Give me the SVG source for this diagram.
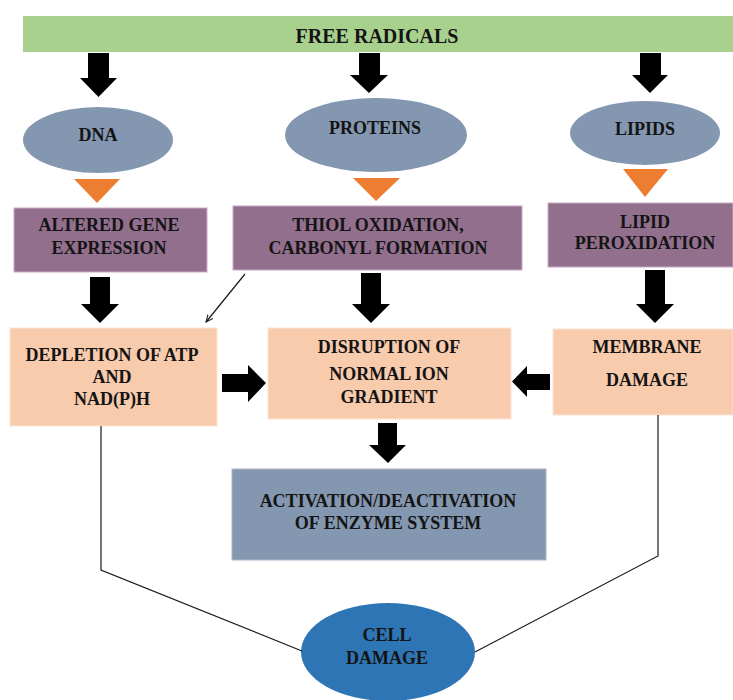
<svg xmlns="http://www.w3.org/2000/svg" width="733" height="700" viewBox="0 0 733 700" font-family="'Liberation Serif', 'DejaVu Serif', serif">
<style>
  text { font-family: 'Liberation Serif', 'DejaVu Serif', serif; font-weight: bold; font-size: 18px; fill: #141414; text-anchor: middle; }
  .title { font-size: 20px; }
  .oval { fill: #8497b0; }
  .purple { fill: #926f8d; stroke: #c7aac4; stroke-width: 1; }
  .peach { fill: #f8cbad; stroke: #fbe3d3; stroke-width: 1; }
  .tri { fill: #ed7d31; }
  .blk { fill: #000; }
  .line { fill: none; stroke: #1a1a1a; stroke-width: 1.2; }
</style>
<defs>
  <marker id="thin" viewBox="0 0 10 10" refX="9" refY="5" markerWidth="8" markerHeight="8" orient="auto" markerUnits="userSpaceOnUse">
    <path d="M0,1 L9,5 L0,9" fill="none" stroke="#1a1a1a" stroke-width="1.3"/>
  </marker>
</defs>

<g id="free-radicals">
  <rect x="23" y="16" width="710" height="36" fill="#a9d18e"/>
  <text class="title" x="377" y="43">FREE RADICALS</text>
</g>

<g id="dna">
  <ellipse class="oval" cx="98" cy="140" rx="75" ry="33"/>
  <text x="98" y="141">DNA</text>
</g>
<g id="proteins">
  <ellipse class="oval" cx="376" cy="135" rx="91" ry="37"/>
  <text x="375" y="134">PROTEINS</text>
</g>
<g id="lipids">
  <ellipse class="oval" cx="645" cy="133" rx="75" ry="32"/>
  <text x="645" y="135">LIPIDS</text>
</g>

<g id="altered-gene">
  <rect class="purple" x="14" y="208" width="193" height="64"/>
  <text x="109" y="231">ALTERED GENE</text>
  <text x="109" y="254">EXPRESSION</text>
</g>
<g id="thiol">
  <rect class="purple" x="233" y="206" width="289" height="64"/>
  <text x="378" y="231">THIOL OXIDATION,</text>
  <text x="378" y="254">CARBONYL FORMATION</text>
</g>
<g id="lipid-peroxidation">
  <rect class="purple" x="548" y="203" width="185" height="64"/>
  <text x="645" y="228">LIPID</text>
  <text x="645" y="249">PEROXIDATION</text>
</g>

<g id="depletion">
  <rect class="peach" x="10" y="328" width="207" height="98"/>
  <text x="112" y="361">DEPLETION OF ATP</text>
  <text x="112" y="383">AND</text>
  <text x="112" y="405">NAD(P)H</text>
</g>
<g id="disruption">
  <rect class="peach" x="268" y="328" width="243" height="91"/>
  <text x="389" y="353">DISRUPTION OF</text>
  <text x="389" y="380">NORMAL ION</text>
  <text x="389" y="403">GRADIENT</text>
</g>
<g id="membrane">
  <rect class="peach" x="553" y="329" width="180" height="86"/>
  <text x="647" y="353">MEMBRANE</text>
  <text x="647" y="386">DAMAGE</text>
</g>

<g id="enzyme">
  <rect x="232" y="469" width="314" height="91" fill="#8497b0" stroke="#a9b6c8" stroke-width="1"/>
  <text x="388" y="507">ACTIVATION/DEACTIVATION</text>
  <text x="388" y="529">OF ENZYME SYSTEM</text>
</g>

<g id="cell-damage">
  <ellipse cx="388" cy="652" rx="87" ry="49" fill="#2e75b6"/>
  <text x="387" y="641">CELL</text>
  <text x="387" y="664">DAMAGE</text>
</g>

<g id="connectors">
  <polygon class="blk" points="88,53 109,53 109,78 117,78 98.5,97 80,78 88,78"/>
  <polygon class="blk" points="359,53 380,53 380,75 388,75 369,93 350,75 359,75"/>
  <polygon class="blk" points="640,53 661,53 661,75 668,75 650,93 632,75 640,75"/>
  <polygon class="tri" points="74,179 120,179 97,203"/>
  <polygon class="tri" points="353,178 400,178 376,201"/>
  <polygon class="tri" points="623,169 668,169 645,197"/>
  <polygon class="blk" points="90,277 110,277 110,304 119,304 100,323 81,304 90,304"/>
  <polygon class="blk" points="361,273 381,273 381,304 390,304 371,323 352,304 361,304"/>
  <polygon class="blk" points="645,270 665,270 665,304 674,304 655,323 636,304 645,304"/>
  <line class="line" x1="245" y1="274" x2="206" y2="322" marker-end="url(#thin)"/>
  <polygon class="blk" points="222,374 248,374 248,365 266,383 248,402 248,392 222,392"/>
  <polygon class="blk" points="550,374 527,374 527,366 512,381.5 527,397 527,390 550,390"/>
  <polygon class="blk" points="378,423 397,423 397,445 406,445 388,463 369,445 378,445"/>
  <polyline class="line" points="101,426 101,570 302,651"/>
  <polyline class="line" points="658,415 658,556 475,652"/>
</g>
</svg>
